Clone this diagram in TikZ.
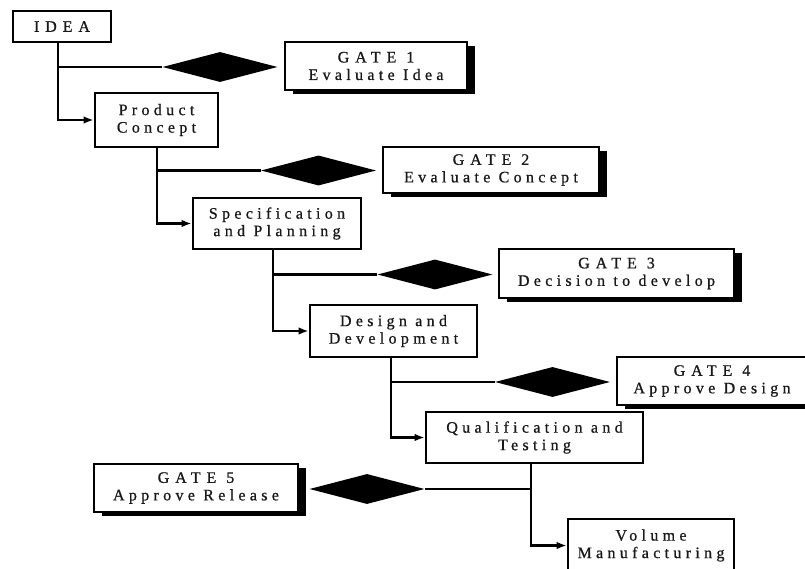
\documentclass[tikz,border=0pt]{standalone}
\usepackage{fontspec}
\setmainfont{Liberation Serif}[LetterSpace=27, FakeBold=0.8]
\newfontfamily\capsfont{Liberation Serif}[LetterSpace=37, FakeBold=0.8]
\usetikzlibrary{shapes.geometric,arrows.meta,shadows}
\begin{document}
\begin{tikzpicture}[x=1pt,y=-1pt,
  txt/.style={inner sep=0pt, align=center, font=\fontsize{16}{17.5}\selectfont, text=black!90},
  box/.style={txt, draw, line width=2.6pt},
  gatebox/.style={txt, draw, line width=1.8pt, fill=white,
    drop shadow={shadow xshift=8pt, shadow yshift=-4pt, fill=black, opacity=1}},
  gem/.style={diamond, fill=black, minimum width=115pt, minimum height=30pt, inner sep=0pt},
  conn/.style={line width=2.2pt},
  arr/.style={conn, -{Latex[length=10pt,width=7.5pt]}}
]
\useasboundingbox (0,0) rectangle (805,569);
\clip (0,0) rectangle (805,569);

% process boxes
\node[box, minimum width=98pt, minimum height=31pt] (idea) at (62,26.5) {\capsfont IDEA};
\node[box, minimum width=123pt, minimum height=54pt] (pc) at (156.5,120) {Product\\Concept};
\node[box, minimum width=168pt, minimum height=51pt] (spec) at (277,223.5) {Specification\\and Planning};
\node[box, minimum width=167pt, minimum height=52pt] (dd) at (393.5,331) {Design and\\Development};
\node[box, minimum width=217pt, minimum height=51pt] (qt) at (534.5,437.5) {Qualification and\\Testing};
\node[box, minimum width=166pt, minimum height=53pt] (vol) at (651,545.5) {Volume\\Manufacturing};

% gate boxes
\node[gatebox, minimum width=182pt, minimum height=48pt] (g1) at (376,66) {{\capsfont GATE 1}\\Evaluate Idea};
\node[gatebox, minimum width=216pt, minimum height=46pt] (g2) at (491,170) {{\capsfont GATE 2}\\Evaluate Concept};
\node[gatebox, minimum width=235pt, minimum height=49pt] (g3) at (616.5,273.5) {{\capsfont GATE 3}\\Decision to develop};
\node[gatebox, minimum width=190pt, minimum height=48pt] (g4) at (712,381) {{\capsfont GATE 4}\\Approve Design};
\node[gatebox, minimum width=204pt, minimum height=48pt] (g5) at (196,488) {{\capsfont GATE 5}\\Approve Release};

% diamonds
\node[gem] (d1) at (220,67) {};
\node[gem] (d2) at (318.5,170.5) {};
\node[gem] (d3) at (435,274.5) {};
\node[gem] (d4) at (552.5,382) {};
\node[gem] (d5) at (367,489) {};

% connectors
\draw[arr] (58,0 |- idea.south) |- (pc);
\draw[conn] (58,0 |- d1) -- (d1.west);
\draw[arr] (157,0 |- pc.south) |- (spec);
\draw[conn] (157,0 |- d2) -- (d2.west);
\draw[arr] (273,0 |- spec.south) |- (dd);
\draw[conn] (273,0 |- d3) -- (d3.west);
\draw[arr] (391,0 |- dd.south) |- (qt);
\draw[conn] (391,0 |- d4) -- (d4.west);
\draw[arr] (531,0 |- qt.south) |- (vol);
\draw[conn] (531,0 |- d5) -- (d5.east);
\end{tikzpicture}
\end{document}
